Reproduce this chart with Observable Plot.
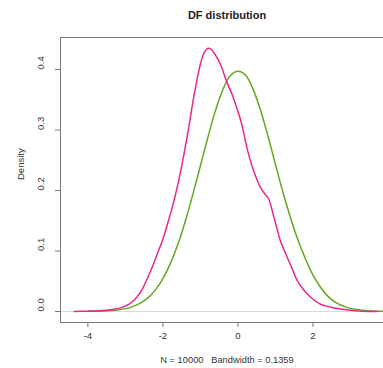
<!DOCTYPE html>
<html><head><meta charset="utf-8">
<script src="https://cdn.jsdelivr.net/npm/d3@7"></script>
<script src="https://cdn.jsdelivr.net/npm/@observablehq/plot@0.6"></script>
<style>
body{margin:0;background:#fff;font-family:"Liberation Sans",Arial,sans-serif;}
#wrap{position:relative;width:383px;height:368px;overflow:hidden;background:#fff;}
#title{position:absolute;left:60px;width:334px;top:9px;text-align:center;font-weight:bold;font-size:11px;color:#222;}
#chart{position:absolute;left:0;top:30px;}
#cap{position:absolute;left:60px;width:334px;top:355px;text-align:center;font-size:9.3px;white-space:pre;color:#333;}
</style></head>
<body>
<div id="wrap">
  <div id="title">DF distribution</div>
  <div id="chart"></div>
  <div id="cap">N = 10000   Bandwidth = 0.1359</div>
</div>
<script>
const pinkX = [-4.36,-4.0,-3.6,-3.4,-3.13,-2.9,-2.69,-2.55,-2.42,-2.28,-2.15,-2.0,-1.89,-1.77,-1.65,-1.5,-1.38,-1.28,-1.18,-1.1,-1.0,-0.9,-0.8,-0.73,-0.6,-0.47,-0.3,-0.15,-0.05,0.1,0.25,0.4,0.6,0.72,0.82,0.95,1.05,1.13,1.31,1.45,1.58,1.75,1.93,2.2,2.47,2.75,3.0,3.3,3.7];
const pinkY = [0,0.0005,0.0015,0.003,0.006,0.012,0.024,0.037,0.054,0.074,0.095,0.12,0.142,0.168,0.197,0.24,0.28,0.316,0.354,0.38,0.409,0.428,0.435,0.434,0.424,0.409,0.38,0.358,0.34,0.31,0.268,0.236,0.205,0.194,0.186,0.158,0.135,0.117,0.090,0.07,0.051,0.036,0.024,0.012,0.007,0.004,0.002,0.0005,0];
const greenX = [-4.0,-3.6,-3.2,-2.9,-2.6,-2.4,-2.2,-2.0,-1.8,-1.6,-1.4,-1.2,-1.0,-0.8,-0.6,-0.4,-0.2,0,0.2,0.4,0.6,0.8,1.0,1.2,1.4,1.6,1.8,2.0,2.2,2.4,2.6,2.9,3.2,3.6,4.0,4.3];
const greenY = [0.0002,0.0008,0.0026,0.006,0.0137,0.0225,0.0357,0.0545,0.0795,0.111,0.150,0.194,0.241,0.288,0.332,0.367,0.390,0.397,0.391,0.368,0.333,0.29,0.243,0.197,0.155,0.118,0.087,0.06,0.04,0.025,0.015,0.0068,0.003,0.0009,0.0002,0.0001];
const xTicks = [-4,-2,0,2];
const yTicks = [0,0.1,0.2,0.3,0.4];

const pink = pinkX.map((x,i)=>({x, y: pinkY[i]}));
const green = greenX.map((x,i)=>({x, y: greenY[i]}));
const xDomain = [-4.73, 3.88];
const yDomain = [-0.0182, 0.4529];

const chart = Plot.plot({
  width: 383, height: 320,
  marginLeft: 60, marginRight: 0, marginTop: 7, marginBottom: 28,
  x: {domain: xDomain},
  y: {domain: yDomain},
  style: {fontFamily: '"Liberation Sans", Arial, sans-serif', fontSize: "9.5px", color: "#333", background: "transparent", overflow: "hidden"},
  marks: [
    Plot.ruleY([0], {stroke: "#d9d9d9"}),
    Plot.line(green, {x: "x", y: "y", stroke: "#66A61E", strokeWidth: 1.5, curve: "catmull-rom", clip: true}),
    Plot.line(pink, {x: "x", y: "y", stroke: "#E7298A", strokeWidth: 1.5, curve: "catmull-rom", clip: true}),
    Plot.ruleX([xDomain[0]], {stroke: "#777"}),
    Plot.ruleY(yDomain, {stroke: "#777"}),
    Plot.axisX({ticks: xTicks, tickSize: 5, tickPadding: 5, tickFormat: d => String(d), label: null, stroke: "#777"}),
    Plot.axisY({ticks: yTicks, tickSize: 5, tickFormat: () => "", label: null, stroke: "#777"}),
    Plot.text(yTicks, {y: d => d, text: d => d.toFixed(1), frameAnchor: "left", dx: -20, rotate: -90}),
    Plot.text(["Density"], {frameAnchor: "left", dx: -40, rotate: -90})
  ]
});
document.getElementById("chart").appendChild(chart);
</script>
</body></html>
